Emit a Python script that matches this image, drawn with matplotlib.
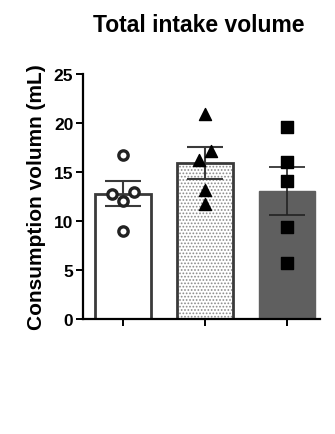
import matplotlib
matplotlib.use('Agg')
import matplotlib.pyplot as plt
import numpy as np

# values
groups = ['Group 1', 'Group 2', 'Group 3']
means = [12.8, 15.9, 13.1]
sem = [1.25, 1.6, 2.45]
points = [
    [16.7, 12.8, 13.0, 12.0, 9.0],
    [20.9, 17.1, 16.2, 13.2, 11.7],
    [19.6, 16.0, 14.1, 9.4, 5.7],
]
offsets = [
    [0.0, -0.14, 0.13, 0.0, 0.0],
    [0.0, 0.07, -0.07, 0.0, 0.0],
    [0.0, 0.0, 0.0, 0.0, 0.0],
]
yticks = [0, 5, 10, 15, 20, 25]

plt.rcParams['font.family'] = ['Liberation Sans', 'DejaVu Sans']
plt.rcParams['hatch.linewidth'] = 0.8

fig = plt.figure(figsize=(3.35, 4.35), dpi=100)
ax = fig.add_axes([0.248, 0.264, 0.707, 0.564])

x = np.arange(len(groups))
w = 0.68

# bar 1: white, dark outline
ax.bar(x[0], means[0], width=w, color='white', edgecolor='#3a3a3a', linewidth=2, zorder=2)
# bar 2: dotted fill
ax.bar(x[1], means[1], width=w, color='white', edgecolor='#8a8a8a', hatch='.....', linewidth=0, zorder=2)
ax.bar(x[1], means[1], width=w, fill=False, edgecolor='#3a3a3a', linewidth=2, zorder=2)
# bar 3: dark grey
ax.bar(x[2], means[2], width=w, color='#5f5f5f', edgecolor='#5f5f5f', linewidth=1, zorder=2)

ax.errorbar(x[:2], means[:2], yerr=sem[:2], fmt='none', ecolor='#3a3a3a',
            elinewidth=1.5, capsize=13, capthick=1.5, zorder=3)
ax.errorbar(x[2:], means[2:], yerr=sem[2:], fmt='none', ecolor='#222222',
            elinewidth=1.2, capsize=13, capthick=1.2, zorder=3)

markers = ['o', '^', 's']
for i in range(3):
    xs = x[i] + np.array(offsets[i])
    if i == 0:
        ax.scatter(xs, points[i], s=45, facecolor='white', edgecolor='#222222',
                   linewidth=2.4, marker='o', zorder=4)
    else:
        ax.scatter(xs, points[i], s=75, color='black', marker=markers[i], zorder=4)

ax.set_xlim(-0.49, 2.4)
ax.set_ylim(0, 25)
ax.set_yticks(yticks)
ax.set_xticks(x)
ax.set_xticklabels([])
ax.spines['top'].set_visible(False)
ax.spines['right'].set_visible(False)
ax.spines['left'].set_linewidth(1.6)
ax.spines['bottom'].set_linewidth(1.6)
ax.tick_params(axis='both', width=1.4, length=5, labelsize=12.5, pad=2)
for lab in ax.get_yticklabels():
    lab.set_fontweight('bold')
ax.set_ylabel('Consumption volumn (mL)', fontsize=15, fontweight='bold', labelpad=6)

fig.text(0.593, 0.942, 'Total intake volume', ha='center', va='center',
         fontsize=16.5, fontweight='bold')

fig.savefig('out.png', dpi=100)
